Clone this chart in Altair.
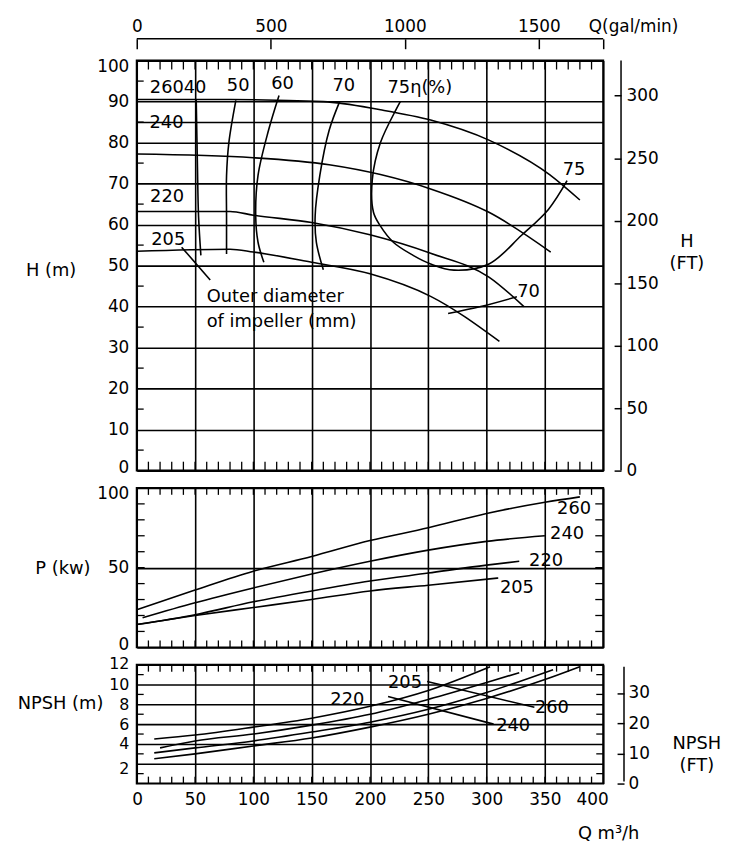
import altair as alt
import pandas as pd

# ------------------------------------------------------------------ data
# Head H (m) vs flow Q (m3/h) for each impeller diameter (mm)
h260_q = [0, 80, 160, 209, 252, 302, 354, 380]
h260_v = [90.5, 90.5, 90, 88, 85.5, 80.6, 72.2, 66]
h240_q = [0, 100, 165, 209, 252, 302, 355]
h240_v = [77.2, 76.3, 74.6, 72.2, 68.7, 63, 53.3]
h220_q = [0, 80, 100, 150, 200, 252, 302, 332]
h220_v = [63.2, 63.2, 62.3, 60.5, 57.5, 53, 47.2, 40]
h205_q = [0, 80, 100, 150, 200, 252, 311]
h205_v = [53.5, 54, 53.3, 50.8, 48, 42.5, 31.5]

# Iso-efficiency curves (Q, H)
e40_q = [51, 52, 53, 55]
e40_v = [90.5, 75, 62, 52.5]
e50_q = [85, 79, 77, 77, 77]
e50_v = [90.3, 80, 71.9, 62, 52.8]
e60_q = [122, 113, 104, 102, 104, 109]
e60_v = [91.5, 83, 72, 62.2, 55.7, 50.8]
e70_q = [174, 165, 157, 153, 154, 160]
e70_v = [90, 83, 72, 62.2, 55.7, 49]
e75_q = [226, 223, 209, 202, 203, 208.6, 220, 237, 252, 272, 302, 330, 353, 369]
e75_v = [90, 88.4, 80, 71, 63, 59.8, 55.7, 52.5, 50.4, 48.9, 50.4, 57.4, 63.7, 70.7]
e70r_q = [267, 295, 326]
e70r_v = [38.3, 40, 42.4]

# Shaft power P (kW)
p260_q = [0, 50, 100, 150, 200, 250, 300, 350, 380]
p260_v = [23.6, 36, 47.8, 57, 67, 75, 84, 91, 94.4]
p240_q = [5, 50, 100, 150, 200, 250, 300, 350]
p240_v = [18.6, 28, 37.3, 46, 54, 61, 66.5, 70]
p220_q = [0, 50, 100, 150, 200, 250, 300, 328]
p220_v = [14.3, 20.5, 28.6, 35.4, 41.6, 46.6, 51.6, 54]
p205_q = [0, 50, 100, 150, 200, 250, 310]
p205_v = [14.3, 20, 25, 30, 35.4, 39, 43.5]

# NPSH required (m)
n205_q = [15, 50, 100, 150, 200, 250, 303]
n205_v = [4.5, 4.9, 5.7, 6.6, 7.8, 9.4, 11.8]
n220_q = [20, 50, 100, 150, 200, 250, 300, 328]
n220_v = [3.6, 4.3, 5.0, 5.9, 7.0, 8.5, 10.2, 11.2]
n240_q = [15, 50, 100, 150, 200, 250, 300, 357]
n240_v = [3.1, 3.6, 4.3, 5.2, 6.2, 7.5, 9.2, 11.5]
n260_q = [15, 50, 100, 150, 200, 250, 300, 350, 380]
n260_v = [2.5, 3.0, 3.8, 4.6, 5.7, 7.0, 8.6, 10.5, 11.8]

# Labels (text, Q, value)
top_lbl_t = ["260", "40", "50", "60", "70", "240", "220", "205", "75", "70"]
top_lbl_q = [25.8, 50, 87, 125, 177.6, 25.5, 26, 27, 375, 336]
top_lbl_v = [93.2, 93.2, 93.7, 94.4, 93.7, 84.7, 66.6, 56.2, 73.4, 43.6]
top_note_t = ["75η(%)", "Outer diameter", "of impeller (mm)"]
top_note_q = [215, 60, 60]
top_note_v = [93.2, 42.4, 36.3]
lead_q = [38.5, 63]
lead_v = [54.5, 46.5]

mid_lbl_t = ["260", "240", "220", "205"]
mid_lbl_q = [375, 369, 351, 326]
mid_lbl_v = [87, 70.8, 54.2, 37.3]

bot_lbl_t = ["205", "220", "240", "260"]
bot_lbl_q = [230, 180.6, 322.8, 356]
bot_lbl_v = [10.1, 8.4, 5.8, 7.6]
bot_lead1_q = [249, 341]
bot_lead1_v = [10.3, 7.7]
bot_lead2_q = [215.5, 306]
bot_lead2_v = [8.8, 6.0]

# axis tick labels
q_ticks = [0, 50, 100, 150, 200, 250, 300, 350, 400]
h_ticks = [0, 10, 20, 30, 40, 50, 60, 70, 80, 90, 100]
h_grid_extra = [85]
p_ticks = [0, 50, 100]
n_ticks = [2, 4, 6, 8, 10, 12]
gal_ticks = [0, 500, 1000, 1500]
gal_max = 1740
hft_ticks = [0, 50, 100, 150, 200, 250, 300]
hft_max = 328.08
nft_ticks = [0, 10, 20, 30]
nft_max = 39.37

# ------------------------------------------------------------------ helpers
def long_df(items):
    rows = []
    for name, qs, vs in items:
        for i, (q, v) in enumerate(zip(qs, vs)):
            rows.append({"curve": name, "Q": q, "V": v, "i": i})
    return pd.DataFrame(rows)


def lbl_df(ts, qs, vs):
    return pd.DataFrame({"t": ts, "Q": qs, "V": vs})


def label_shift(pairs):
    return {"condition": [{"test": f"datum.value == {v}", "value": o} for v, o in pairs],
            "value": 0}


F = "DejaVu Sans"
FS = 18
W = 471
H1, H2, H3 = 414, 161, 120
LW = 1.6
one = pd.DataFrame({"k": [0]})

xs = alt.Scale(domain=[0, 400], nice=False, zero=False)
grid_kw = dict(grid=True, gridColor="black", gridWidth=1.6, gridOpacity=1)


def minor_x(field_axis, height, ln=8):
    out = []
    for y0, y1 in [(0, ln), (height - ln, height)]:
        out.append(alt.Chart(alt.sequence(10, 400, 10, as_="Q")).mark_rule(
            color="black", strokeWidth=1.3).encode(
            x=alt.X("Q:Q", scale=xs, axis=field_axis), y=alt.value(y0), y2=alt.value(y1)))
    return out


def minor_y(scale, yaxis, start, stop, step, right=False, ln=7):
    spans = [(0, ln)] + ([(W - ln, W)] if right else [])
    out = []
    for x0, x1 in spans:
        out.append(alt.Chart(alt.sequence(start, stop, step, as_="V")).mark_rule(
            color="black", strokeWidth=1.3).encode(
            y=alt.Y("V:Q", scale=scale, axis=yaxis), x=alt.value(x0), x2=alt.value(x1)))
    return out


def txt(df, scale, xaxis, yaxis, align="center"):
    return alt.Chart(df).mark_text(
        align=align, baseline="middle", fontSize=FS, font=F, color="black").encode(
        x=alt.X("Q:Q", scale=xs, axis=xaxis), y=alt.Y("V:Q", scale=scale, axis=yaxis),
        text="t:N")


def lines(df, scale, xaxis, yaxis, interp="monotone"):
    return alt.Chart(df).mark_line(color="black", strokeWidth=LW, interpolate=interp).encode(
        x=alt.X("Q:Q", scale=xs, axis=xaxis), y=alt.Y("V:Q", scale=scale, axis=yaxis),
        detail="curve:N", order="i:Q")


X_PLAIN = alt.Axis(values=q_ticks, labels=False, ticks=False, domain=False, title=None, **grid_kw)

# ------------------------------------------------------------------ top panel (H)
hs = alt.Scale(domain=[0, 100], nice=False, zero=False)
Y_H = alt.Axis(values=h_ticks + h_grid_extra, labelExpr="datum.value == 85 ? '' : datum.label",
               ticks=False, domain=False, labelPadding=8, labelOverlap=False,
               labelOffset=label_shift([(100, 6), (0, -3)]),
               title="H (m)", titleAngle=0,
               titleX=-87, titleY=212, titleAlign="center", titleBaseline="middle", **grid_kw)

head_df = long_df([("260", h260_q, h260_v), ("240", h240_q, h240_v),
                   ("220", h220_q, h220_v), ("205", h205_q, h205_v)])
eff_df = long_df([("40", e40_q, e40_v), ("50", e50_q, e50_v), ("60", e60_q, e60_v),
                  ("70", e70_q, e70_v), ("75", e75_q, e75_v), ("70r", e70r_q, e70r_v),
                  ("lead", lead_q, lead_v)])

gal_line = alt.Chart(one).mark_rule(color="black", strokeWidth=1.5).encode(
    x=alt.value(0), x2=alt.value(W), y=alt.value(-22))
hft_line = alt.Chart(one).mark_rule(color="black", strokeWidth=1.5).encode(
    x=alt.value(W + 18), y=alt.value(0), y2=alt.value(H1))

top_inner = alt.layer(
    lines(head_df, hs, X_PLAIN, Y_H),
    lines(eff_df, hs, X_PLAIN, Y_H, interp="catmull-rom"),
    txt(lbl_df(top_lbl_t, top_lbl_q, top_lbl_v), hs, X_PLAIN, Y_H),
    txt(lbl_df(top_note_t, top_note_q, top_note_v), hs, X_PLAIN, Y_H, align="left"),
    *minor_x(X_PLAIN, H1, ln=9),
    *minor_y(hs, Y_H, 5, 100, 10),
    gal_line, hft_line)

gal_layer = alt.Chart(pd.DataFrame({"g": gal_ticks})).mark_point(opacity=0).encode(
    x=alt.X("g:Q", scale=alt.Scale(domain=[0, gal_max], nice=False, zero=False),
            axis=alt.Axis(orient="top", values=gal_ticks + [gal_max], format="d",
                          labelExpr=f"datum.value == {gal_max} ? '' : datum.label",
                          offset=12, tickSize=10, tickWidth=1.5, domain=False, grid=False,
                          labelPadding=3, labelFlush=False,
                          title="Q(gal/min)", titleX=456, titleY=-22, titleAlign="left",
                          titleFontSize=17,
                          titleBaseline="middle", titleAnchor="start")),
    y=alt.value(0))

hft_layer = alt.Chart(pd.DataFrame({"f": hft_ticks})).mark_point(opacity=0).encode(
    y=alt.Y("f:Q", scale=alt.Scale(domain=[0, hft_max], nice=False, zero=False),
            axis=alt.Axis(orient="right", values=hft_ticks, offset=11, tickSize=7,
                          tickWidth=1.5, domain=False, grid=False, labelPadding=5,
                          labelOverlap=False,
                          title=["H", "(FT)"], titleAngle=0, titleX=73, titleY=183,
                          titleAlign="center", titleBaseline="middle", titleLineHeight=22)),
    x=alt.value(0))

top = alt.layer(top_inner, gal_layer, hft_layer).resolve_scale(
    x="independent", y="independent").properties(width=W, height=H1)

# ------------------------------------------------------------------ middle panel (P)
ps = alt.Scale(domain=[0, 100], nice=False, zero=False)
Y_P = alt.Axis(values=p_ticks, ticks=False, domain=False, labelPadding=8, labelOverlap=False,
               labelOffset=label_shift([(100, 6), (0, -3)]),
               title="P (kw)",
               titleAngle=0, titleX=-75, titleY=81, titleAlign="center", titleBaseline="middle",
               **grid_kw)
pow_df = long_df([("260", p260_q, p260_v), ("240", p240_q, p240_v),
                  ("220", p220_q, p220_v), ("205", p205_q, p205_v)])
mid = alt.layer(
    lines(pow_df, ps, X_PLAIN, Y_P),
    txt(lbl_df(mid_lbl_t, mid_lbl_q, mid_lbl_v), ps, X_PLAIN, Y_P),
    *minor_x(X_PLAIN, H2, ln=7),
    *minor_y(ps, Y_P, 10, 100, 10, right=True, ln=8),
).properties(width=W, height=H2)

# ------------------------------------------------------------------ bottom panel (NPSH)
ns = alt.Scale(domain=[0, 12], nice=False, zero=False)
X_Q = alt.Axis(values=q_ticks, ticks=False, domain=False, labelPadding=8,
               labelFlush=True, labelFlushOffset=5, labelOverlap=False,
               title="Q m³/h", titleX=476, titleY=50, titleAlign="center",
               titleBaseline="middle", **grid_kw)
Y_N = alt.Axis(values=n_ticks, ticks=False, domain=False, labelPadding=8, labelOverlap=False,
               labelFontSize=16,
               labelOffset=label_shift([(12, -1), (2, 5)]),
               title="NPSH (m)",
               titleAngle=0, titleX=-77.5, titleY=39, titleAlign="center", titleBaseline="middle",
               **grid_kw)
npsh_df = long_df([("205", n205_q, n205_v), ("220", n220_q, n220_v),
                   ("240", n240_q, n240_v), ("260", n260_q, n260_v),
                   ("l1", bot_lead1_q, bot_lead1_v), ("l2", bot_lead2_q, bot_lead2_v)])
nft_line = alt.Chart(one).mark_rule(color="black", strokeWidth=1.5).encode(
    x=alt.value(W + 21), y=alt.value(2), y2=alt.value(H3 - 2))
bot_inner = alt.layer(
    lines(npsh_df, ns, X_Q, Y_N),
    txt(lbl_df(bot_lbl_t, bot_lbl_q, bot_lbl_v), ns, X_Q, Y_N),
    *minor_x(X_Q, H3, ln=7),
    *minor_y(ns, Y_N, 1, 12, 2, right=True, ln=7),
    nft_line)
nft_layer = alt.Chart(pd.DataFrame({"f": nft_ticks})).mark_point(opacity=0).encode(
    y=alt.Y("f:Q", scale=alt.Scale(domain=[0, nft_max], nice=False, zero=False),
            axis=alt.Axis(orient="right", values=nft_ticks, offset=14, tickSize=7,
                          tickWidth=1.5, domain=False, grid=False, labelPadding=4,
                          labelOverlap=False,
                          title=["NPSH", "(FT)"], titleAngle=0, titleX=80, titleY=80,
                          titleAlign="center", titleBaseline="middle", titleLineHeight=22)),
    x=alt.value(0))
bot = alt.layer(bot_inner, nft_layer).resolve_scale(y="independent").properties(
    width=W, height=H3)

chart = alt.vconcat(top, mid, bot, spacing=17.5, bounds="flush").properties(
    padding={"left": 8, "top": 5, "right": 5, "bottom": 5}
).configure_axis(
    labelFont=F, titleFont=F, labelFontSize=17, titleFontSize=FS, titleFontWeight="normal",
    labelColor="black", titleColor="black", tickColor="black", domainColor="black"
).configure_view(stroke="black", strokeWidth=2)

chart.save("out.html", embed_options={"renderer": "svg", "actions": False})
